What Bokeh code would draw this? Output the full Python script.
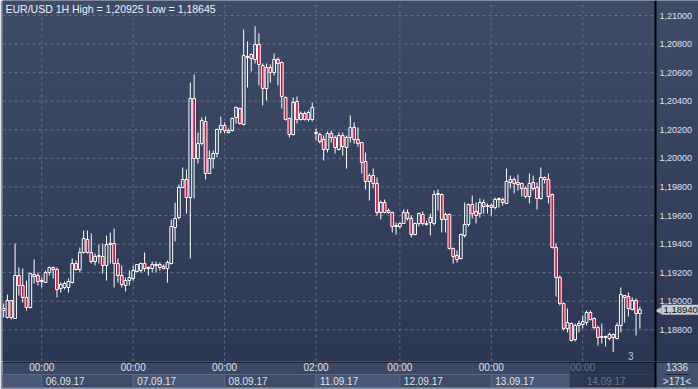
from bokeh.plotting import figure
from bokeh.models import Range1d, BoxAnnotation, Label, Span, ColumnDataSource
from bokeh.layouts import column
from bokeh.embed import file_html
from bokeh.resources import INLINE
from bokeh.core.properties import value

# ---------------- data (EUR/USD, 1H candles) ----------------
opens = [
    1.18935, 1.18886, 1.19005, 1.18879, 1.19180, 1.19110, 1.19026, 1.18956, 1.19173, 1.19180,
    1.19138, 1.19131, 1.19201, 1.19236, 1.19222, 1.19089, 1.19096, 1.19096, 1.19131, 1.19264,
    1.19222, 1.19341, 1.19432, 1.19341, 1.19278, 1.19313, 1.19313, 1.19250, 1.19397, 1.19404,
    1.19264, 1.19180, 1.19110, 1.19145, 1.19159, 1.19208, 1.19215, 1.19264, 1.19229, 1.19229,
    1.19250, 1.19257, 1.19243, 1.19229, 1.19264, 1.19516, 1.19586, 1.19796, 1.19852, 1.19726,
    1.20419, 1.19999, 1.20104, 1.20258, 1.19894, 1.19999, 1.20034, 1.20202, 1.20230, 1.20181,
    1.20195, 1.20286, 1.20349, 1.20237, 1.20713, 1.20727, 1.20692, 1.20797, 1.20650, 1.20489,
    1.20636, 1.20601, 1.20692, 1.20671, 1.20426, 1.20279, 1.20167, 1.20398, 1.20272, 1.20314,
    1.20272, 1.20272, 1.20181, 1.20167, 1.20132, 1.20062, 1.20174, 1.20146, 1.20062, 1.20160,
    1.20076, 1.20146, 1.20216, 1.20132, 1.20111, 1.19978, 1.19838, 1.19880, 1.19824, 1.19621,
    1.19691, 1.19635, 1.19621, 1.19523, 1.19523, 1.19544, 1.19621, 1.19579, 1.19467, 1.19544,
    1.19607, 1.19537, 1.19551, 1.19544, 1.19747, 1.19747, 1.19572, 1.19607, 1.19369, 1.19320,
    1.19299, 1.19460, 1.19537, 1.19677, 1.19628, 1.19614, 1.19691, 1.19663, 1.19670, 1.19656,
    1.19712, 1.19712, 1.19684, 1.19831, 1.19852, 1.19817, 1.19824, 1.19789, 1.19733, 1.19831,
    1.19796, 1.19719, 1.19866, 1.19852, 1.19747, 1.19376, 1.19166, 1.18984, 1.18809, 1.18844,
    1.18732, 1.18830, 1.18837, 1.18851, 1.18921, 1.18879, 1.18816, 1.18746, 1.18746, 1.18739,
    1.18767, 1.18739, 1.18830, 1.19040, 1.19033, 1.18942, 1.19005, 1.18914,
]
highs = [
    1.18984, 1.19047, 1.19005, 1.19404, 1.19236, 1.19229, 1.19145, 1.19201, 1.19292, 1.19201,
    1.19166, 1.19215, 1.19243, 1.19243, 1.19236, 1.19131, 1.19138, 1.19159, 1.19299, 1.19285,
    1.19376, 1.19495, 1.19495, 1.19474, 1.19334, 1.19397, 1.19404, 1.19460, 1.19481, 1.19509,
    1.19299, 1.19250, 1.19166, 1.19215, 1.19250, 1.19257, 1.19271, 1.19341, 1.19243, 1.19278,
    1.19278, 1.19271, 1.19257, 1.19285, 1.19572, 1.19691, 1.19817, 1.19936, 1.19922, 1.20531,
    1.20587, 1.20181, 1.20286, 1.20293, 1.20055, 1.20055, 1.20209, 1.20293, 1.20251, 1.20209,
    1.20286, 1.20363, 1.20356, 1.20902, 1.20818, 1.20734, 1.20925, 1.20874, 1.20664, 1.20664,
    1.20657, 1.20734, 1.20706, 1.20678, 1.20433, 1.20286, 1.20426, 1.20433, 1.20328, 1.20328,
    1.20335, 1.20391, 1.20209, 1.20181, 1.20160, 1.20188, 1.20195, 1.20160, 1.20181, 1.20181,
    1.20160, 1.20300, 1.20251, 1.20216, 1.20111, 1.20041, 1.19894, 1.19929, 1.19866, 1.19705,
    1.19712, 1.19649, 1.19628, 1.19551, 1.19551, 1.19642, 1.19642, 1.19600, 1.19551, 1.19621,
    1.19628, 1.19565, 1.19614, 1.19775, 1.19782, 1.19754, 1.19621, 1.19614, 1.19376, 1.19355,
    1.19474, 1.19691, 1.19684, 1.19740, 1.19691, 1.19719, 1.19712, 1.19684, 1.19684, 1.19726,
    1.19726, 1.19726, 1.19929, 1.19880, 1.19866, 1.19887, 1.19831, 1.19803, 1.19894, 1.19880,
    1.19831, 1.19936, 1.19873, 1.19894, 1.19754, 1.19404, 1.19180, 1.18991, 1.18949, 1.18851,
    1.18844, 1.18865, 1.18900, 1.18935, 1.18935, 1.18886, 1.18830, 1.18844, 1.18760, 1.18781,
    1.18774, 1.18851, 1.19096, 1.19040, 1.19061, 1.19026, 1.19019, 1.18963,
]
lows = [
    1.18886, 1.18879, 1.18872, 1.18879, 1.19040, 1.18991, 1.18935, 1.18949, 1.19124, 1.19110,
    1.19096, 1.19131, 1.19180, 1.19159, 1.19026, 1.19061, 1.19082, 1.19061, 1.19124, 1.19215,
    1.19201, 1.19334, 1.19334, 1.19264, 1.19250, 1.19264, 1.19194, 1.19145, 1.19264, 1.19096,
    1.19131, 1.19096, 1.19068, 1.19110, 1.19145, 1.19201, 1.19201, 1.19208, 1.19180, 1.19201,
    1.19201, 1.19215, 1.19222, 1.19131, 1.19257, 1.19418, 1.19572, 1.19796, 1.19614, 1.19299,
    1.19719, 1.19964, 1.20090, 1.19852, 1.19894, 1.19929, 1.20006, 1.20174, 1.20174, 1.20174,
    1.20188, 1.20244, 1.20237, 1.20230, 1.20496, 1.20608, 1.20664, 1.20510, 1.20370, 1.20405,
    1.20531, 1.20580, 1.20510, 1.20349, 1.20265, 1.20146, 1.20160, 1.20244, 1.20265, 1.20265,
    1.20258, 1.20258, 1.20125, 1.20104, 1.19985, 1.20041, 1.20111, 1.20034, 1.20055, 1.20020,
    1.19929, 1.20111, 1.20104, 1.20083, 1.19894, 1.19782, 1.19705, 1.19789, 1.19600, 1.19572,
    1.19614, 1.19614, 1.19481, 1.19467, 1.19509, 1.19544, 1.19565, 1.19446, 1.19460, 1.19523,
    1.19530, 1.19530, 1.19460, 1.19530, 1.19635, 1.19481, 1.19481, 1.19362, 1.19264, 1.19271,
    1.19292, 1.19446, 1.19523, 1.19579, 1.19544, 1.19586, 1.19614, 1.19614, 1.19600, 1.19642,
    1.19656, 1.19670, 1.19684, 1.19789, 1.19754, 1.19775, 1.19733, 1.19719, 1.19684, 1.19775,
    1.19642, 1.19712, 1.19824, 1.19684, 1.19369, 1.19033, 1.18970, 1.18795, 1.18781, 1.18718,
    1.18718, 1.18781, 1.18809, 1.18830, 1.18865, 1.18802, 1.18690, 1.18704, 1.18683, 1.18725,
    1.18645, 1.18732, 1.18781, 1.18851, 1.18893, 1.18935, 1.18760, 1.18809,
]
closes = [
    1.18949, 1.19005, 1.18886, 1.19180, 1.19110, 1.19026, 1.18956, 1.19194, 1.19187, 1.19138,
    1.19145, 1.19201, 1.19236, 1.19222, 1.19082, 1.19117, 1.19124, 1.19138, 1.19264, 1.19222,
    1.19341, 1.19439, 1.19341, 1.19278, 1.19313, 1.19320, 1.19250, 1.19397, 1.19404, 1.19264,
    1.19180, 1.19117, 1.19145, 1.19166, 1.19215, 1.19257, 1.19264, 1.19229, 1.19236, 1.19257,
    1.19257, 1.19236, 1.19229, 1.19271, 1.19523, 1.19579, 1.19796, 1.19852, 1.19726, 1.20419,
    1.19999, 1.20104, 1.20265, 1.19894, 1.19999, 1.20034, 1.20202, 1.20230, 1.20195, 1.20195,
    1.20279, 1.20356, 1.20244, 1.20720, 1.20706, 1.20699, 1.20797, 1.20657, 1.20489, 1.20636,
    1.20601, 1.20692, 1.20664, 1.20433, 1.20272, 1.20167, 1.20391, 1.20272, 1.20314, 1.20272,
    1.20321, 1.20356, 1.20174, 1.20118, 1.20062, 1.20174, 1.20146, 1.20076, 1.20160, 1.20083,
    1.20146, 1.20216, 1.20132, 1.20104, 1.19971, 1.19838, 1.19880, 1.19824, 1.19621, 1.19691,
    1.19621, 1.19621, 1.19523, 1.19530, 1.19544, 1.19621, 1.19579, 1.19467, 1.19544, 1.19614,
    1.19544, 1.19544, 1.19586, 1.19747, 1.19754, 1.19572, 1.19607, 1.19369, 1.19313, 1.19292,
    1.19467, 1.19537, 1.19677, 1.19614, 1.19600, 1.19691, 1.19663, 1.19670, 1.19656, 1.19712,
    1.19719, 1.19691, 1.19838, 1.19852, 1.19824, 1.19831, 1.19789, 1.19733, 1.19824, 1.19789,
    1.19719, 1.19866, 1.19852, 1.19733, 1.19376, 1.19166, 1.18984, 1.18809, 1.18851, 1.18725,
    1.18830, 1.18844, 1.18858, 1.18921, 1.18872, 1.18816, 1.18746, 1.18753, 1.18753, 1.18767,
    1.18746, 1.18830, 1.19047, 1.19026, 1.18949, 1.19005, 1.18914, 1.18940,
]

day_ticks = [10, 34, 58, 82, 104, 128, 152]          # candle index of each day start
time_labels = ["00:00", "00:00", "00:00", "02:00", "00:00", "00:00", "00:00"]
date_labels = ["06.09.17", "07.09.17", "08.09.17", "11.09.17", "12.09.17", "13.09.17", "14.09.17"]
price_ticks = [1.188, 1.190, 1.192, 1.194, 1.196, 1.198, 1.200, 1.202, 1.204, 1.206, 1.208, 1.210]
price_labels = ["1,18800", "1,19000", "1,19200", "1,19400", "1,19600", "1,19800",
                "1,20000", "1,20200", "1,20400", "1,20600", "1,20800", "1,21000"]
last_price = 1.18940
last_price_text = "1,18940"
title_text = "EUR/USD 1H High = 1,20925 Low = 1,18645"
bars_total = "1336"
bars_visible = ">171<"
marker_text = "3"
marker_index = 164.6

# ---------------- geometry / style ----------------
X0, X1 = -0.3, 171.1          # visible candle range (chart area)
Y0, Y1 = 1.18578, 1.21105
CW = 653                      # chart area width in px
FW, FH = 696, 361             # frame incl. price-scale panel
STRIP_H = 26
SX1 = X0 + (X1 - X0) * FW / CW
FONT = "Liberation Sans"
TXT = "#dbe3ef"
EDGE = "#8e97a8"

idx = list(range(len(opens)))
body_top = [max(o, c) for o, c in zip(opens, closes)]
body_bot = [min(o, c) for o, c in zip(opens, closes)]
fills = ["#dc143c" if c < o else "rgba(0,0,0,0)" for o, c in zip(opens, closes)]
src = ColumnDataSource(dict(x=idx, o=opens, h=highs, l=lows, c=closes,
                            bt=body_top, bb=body_bot, fill=fills))

p = figure(frame_width=FW, frame_height=FH, x_range=Range1d(X0, SX1), y_range=Range1d(Y0, Y1),
           x_axis_location=None, y_axis_location=None, toolbar_location=None,
           output_backend="svg", min_border_left=2, min_border_right=0,
           min_border_top=0, min_border_bottom=0,
           background_fill_color="#35415d", border_fill_color=EDGE,
           outline_line_color=None)
p.xgrid.visible = False
p.ygrid.visible = False

# vertical gradient of the background
top_rgb = (63, 76, 104)
bot_rgb = (43, 55, 83)
nb = 24
for k in range(nb):
    t = (k + 0.5) / nb
    r, g, b = (int(round(bot_rgb[i] + (top_rgb[i] - bot_rgb[i]) * t)) for i in range(3))
    p.add_layout(BoxAnnotation(bottom=Y0 + (Y1 - Y0) * k / nb, top=Y0 + (Y1 - Y0) * (k + 1) / nb,
                               fill_color=f"#{r:02x}{g:02x}{b:02x}", fill_alpha=1.0,
                               line_color=None, level="image"))

# dashed grid, limited to the chart area
GRID = "#62708d"
p.segment(x0=[X0] * len(price_ticks), y0=price_ticks, x1=[X1 - 0.4] * len(price_ticks),
          y1=price_ticks, line_color=GRID, line_dash="3 3", line_width=1)
p.segment(x0=day_ticks, y0=[Y0] * len(day_ticks), x1=day_ticks, y1=[Y1] * len(day_ticks),
          line_color=GRID, line_dash="3 3", line_width=1)

# wicks
p.segment(x0="x", y0="h", x1="x", y1="bt", source=src, line_color="white", line_width=1)
p.segment(x0="x", y0="bb", x1="x", y1="l", source=src, line_color="white", line_width=1)
# bodies
p.vbar(x="x", width=0.72, top="bt", bottom="bb", source=src, fill_color="fill",
       line_color="white", line_width=1)

# price scale
p.add_layout(Span(location=X1, dimension="height", line_color="black", line_width=2))
p.text(x=[X1] * len(price_ticks), y=price_ticks, text=price_labels, x_offset=4,
       text_align="left", text_baseline="middle", text_color=TXT,
       text_font=value(FONT), text_font_size="9px")
# current price tag
p.text(x=[X1], y=[last_price], text=["\u25c0"], x_offset=-1, text_align="left",
       text_baseline="middle", text_color="#c6cad1", text_font=value("DejaVu Sans"),
       text_font_size="9px")
p.text(x=[X1], y=[last_price], text=[last_price_text], x_offset=6, text_align="left",
       text_baseline="middle", text_color="#111111", text_font=value(FONT),
       text_font_size="9.5px", background_fill_color="#c6cad1", padding=2)

p.add_layout(Label(x=X0, y=Y1, x_offset=3, y_offset=-2, text=title_text, text_baseline="top",
                   text_color="#eef2f8", text_font=FONT, text_font_size="10.5px"))
p.add_layout(Label(x=marker_index, y=Y0, y_offset=2, text=marker_text, text_align="center",
                   text_baseline="bottom", text_color="#a9d2f7", text_font=FONT,
                   text_font_size="10px"))

# ---------------- bottom strip (time axis) ----------------
s = figure(frame_width=FW, frame_height=STRIP_H, x_range=Range1d(X0, SX1),
           y_range=Range1d(0, 1), x_axis_location=None, y_axis_location=None,
           toolbar_location=None, output_backend="svg", min_border_left=2,
           min_border_right=0, min_border_top=0, min_border_bottom=2,
           background_fill_color="#3c4966", border_fill_color=EDGE,
           outline_line_color=None)
s.xgrid.visible = False
s.ygrid.visible = False

edges = [X0] + day_ticks + [X1]
box_fill = ["#4a5877" if k % 2 == 0 else "#3f4c69" for k in range(len(edges) - 1)]
s.quad(left=edges[:-1], right=edges[1:], bottom=0.0, top=0.5, fill_color=box_fill,
       line_color="#5d6a86", line_width=1)
s.text(x=day_ticks, y=[0.77] * len(day_ticks), text=time_labels, text_align="center",
       text_baseline="middle", text_color=TXT, text_font=value(FONT), text_font_size="10px")
s.text(x=day_ticks, y=[0.25] * len(day_ticks), text=date_labels, x_offset=4, text_align="left",
       text_baseline="middle", text_color=TXT, text_font=value(FONT), text_font_size="10px")
# dimmed current-day zone
s.quad(left=[148.6], right=[X1], bottom=0, top=1, fill_color="#1d2740", fill_alpha=0.6,
       line_color=None)
# right-hand counter panel
s.quad(left=[X1], right=[SX1], bottom=0, top=1, fill_color="#44516d", line_color=None)
mid = (X1 + SX1) / 2
s.text(x=[mid], y=[0.77], text=[bars_total], text_align="center", text_baseline="middle",
       text_color=TXT, text_font=value(FONT), text_font_size="10px")
s.segment(x0=[mid - 3.2], y0=[0.5], x1=[mid + 3.2], y1=[0.5], line_color="#1f2638",
          line_width=1)
s.text(x=[mid], y=[0.23], text=[bars_visible], text_align="center", text_baseline="middle",
       text_color=TXT, text_font=value(FONT), text_font_size="10px")
s.add_layout(Span(location=X1, dimension="height", line_color="black", line_width=2))
s.add_layout(Span(location=1, dimension="width", line_color="black", line_width=2))

layout = column(p, s, spacing=0)
open("out.html", "w").write(file_html(layout, INLINE))
